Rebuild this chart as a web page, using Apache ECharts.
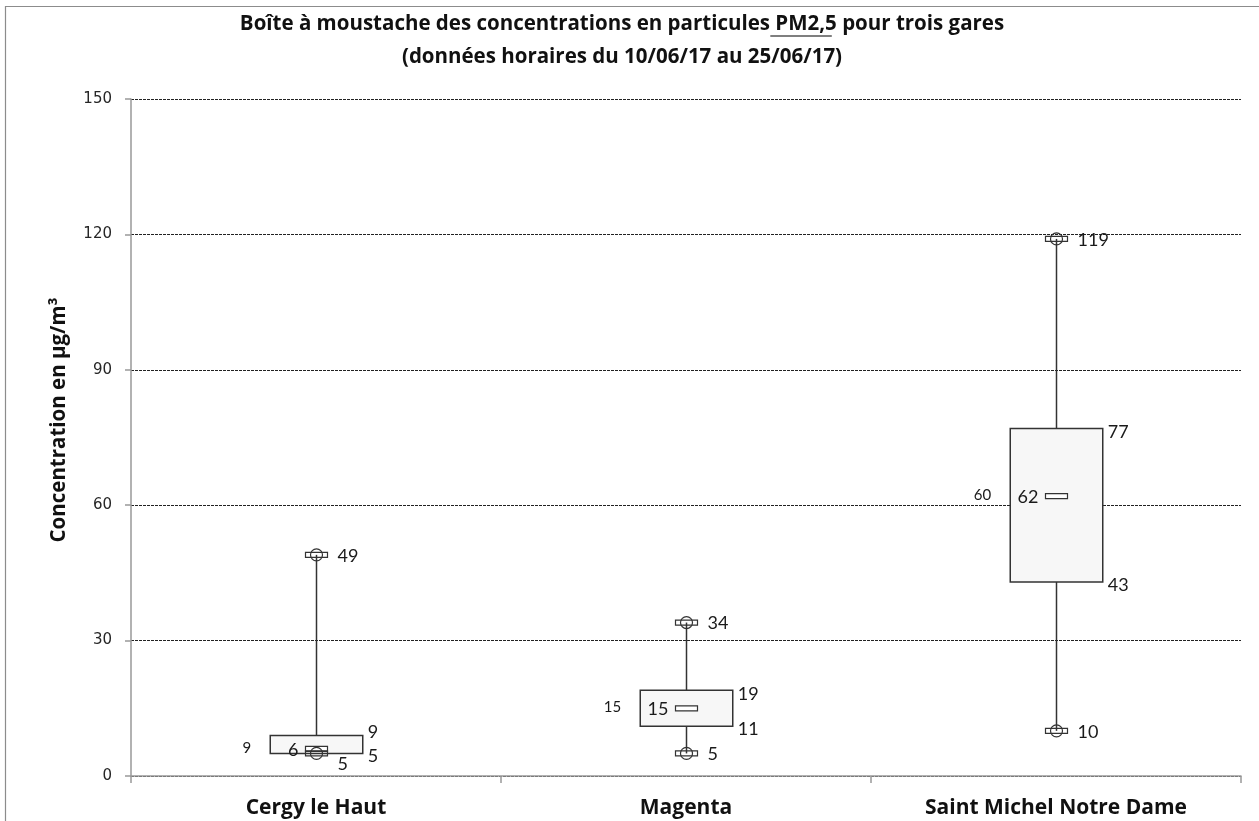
<!DOCTYPE html>
<html>
<head>
<meta charset="utf-8">
<script src="https://cdn.jsdelivr.net/npm/echarts@6/dist/echarts.min.js"></script>
<style>
html,body{margin:0;padding:0;background:#fff;}
#chart{width:1259px;height:821px;}
</style>
</head>
<body>
<div id="chart"></div>
<script>
const categories = ['Cergy le Haut', 'Magenta', 'Saint Michel Notre Dame'];
const minValues = [5, 5, 10];
const q1Values = [5, 11, 43];
const medianValues = [6, 15, 62];
const q3Values = [9, 19, 77];
const maxValues = [49, 34, 119];
const meanValues = [9, 15, 60];
const yTicks = [0, 30, 60, 90, 120, 150];

const titlePre = 'Boîte à moustache des concentrations en particules ';
const titleUnder = 'PM2,5';
const titlePost = ' pour trois gares';
const titleLine2 = '(données horaires du 10/06/17 au 25/06/17)';
const yName = 'Concentration en µg/m³';

const boxData = categories.map((c, i) => [i, minValues[i], q1Values[i], medianValues[i], q3Values[i], maxValues[i], meanValues[i]]);

const FONT = 'Lato, "Open Sans", sans-serif';
const BFONT = '"Open Sans", Lato, sans-serif';
const TITLE_SIZE = 20.5;
const TITLE_CX = 617;
const INK = '#333333';
const TXT = '#1a1a1a';

// underline position for "PM2,5" measured from the title font
const mctx = document.createElement('canvas').getContext('2d');
mctx.font = 'bold ' + TITLE_SIZE + 'px ' + BFONT;
const line1 = titlePre + titleUnder + titlePost;
const w1 = mctx.measureText(line1).width;
const ulStart = TITLE_CX - w1 / 2 + mctx.measureText(titlePre).width;
const ulEnd = ulStart + mctx.measureText(titleUnder).width;

function endMarker(cx, y) {
  return [
    {type: 'circle', shape: {cx: cx, cy: y, r: 6}, style: {fill: 'none', stroke: INK, lineWidth: 1.2}},
    {type: 'rect', shape: {x: cx - 11, y: y - 2.5, width: 22, height: 5}, style: {fill: 'none', stroke: INK, lineWidth: 1.2}}
  ];
}
function label(text, x, y, align, size) {
  return {type: 'text', style: {text: String(text), x: x, y: y, align: align, verticalAlign: 'middle', fill: TXT, fontFamily: FONT, fontSize: size || 18}};
}

function renderItem(params, api) {
  const i = api.value(0);
  const vMin = api.value(1), vQ1 = api.value(2), vMed = api.value(3), vQ3 = api.value(4), vMax = api.value(5), vMean = api.value(6);
  const cx = Math.round(api.coord([i, 0])[0]) + 0.5;
  const y = v => api.coord([i, v])[1];
  const yMin = y(vMin), yQ1 = y(vQ1), yMed = y(vMed), yQ3 = y(vQ3), yMax = y(vMax);
  const bw = api.size([1, 0])[0] * 0.25;
  const left = cx - bw / 2, right = cx + bw / 2;
  const children = [];
  children.push({type: 'line', shape: {x1: cx, y1: yMax, x2: cx, y2: yQ3}, style: {stroke: INK, lineWidth: 1.5}});
  children.push({type: 'line', shape: {x1: cx, y1: yQ1, x2: cx, y2: yMin}, style: {stroke: INK, lineWidth: 1.5}});
  children.push({type: 'rect', shape: {x: left, y: yQ3, width: bw, height: yQ1 - yQ3}, style: {fill: '#f7f7f7', stroke: INK, lineWidth: 1.5}});
  children.push({type: 'rect', shape: {x: cx - 11, y: yMed - 2.5, width: 22, height: 5}, style: {fill: '#ffffff', stroke: INK, lineWidth: 1.2}});
  endMarker(cx, yMax).forEach(e => children.push(e));
  endMarker(cx, yMin).forEach(e => children.push(e));
  const tight = (yQ1 - yQ3) < 30;
  children.push(label(vQ3, right + 5, tight ? yQ3 - 3 : yQ3 + 4, 'left'));
  children.push(label(vQ1, right + 5, yQ1 + 3, 'left'));
  children.push(label(vMax, cx + 21, yMax + 1, 'left'));
  const minClash = Math.abs(yMin - yQ1) < 10;
  children.push(label(vMin, cx + 21, minClash ? yMin + 11 : yMin + 1, 'left'));
  children.push(label(vMed, cx - 18, yMed + 1, 'right'));
  children.push(label(vMean, left - 19, yMed - 1, 'right', 15));
  return {type: 'group', children: children};
}

const chart = echarts.init(document.getElementById('chart'), null, {renderer: 'canvas'});
chart.setOption({
  animation: false,
  backgroundColor: '#ffffff',
  title: {
    text: line1 + '\n' + titleLine2,
    left: TITLE_CX,
    top: 3,
    textAlign: 'center',
    textStyle: {fontFamily: BFONT, fontWeight: 'bold', fontSize: TITLE_SIZE, lineHeight: 33, color: '#111111'}
  },
  grid: {left: 131, right: 18, top: 99, bottom: 45, containLabel: false},
  xAxis: {
    type: 'category',
    data: categories,
    boundaryGap: true,
    axisLine: {show: true, lineStyle: {color: '#999999', width: 1.5}},
    axisTick: {show: true, length: 7, alignWithLabel: false, lineStyle: {color: '#999999', width: 1.5}},
    axisLabel: {margin: 22, fontFamily: BFONT, fontWeight: 'bold', fontSize: 21, color: '#111111', interval: 0},
    splitLine: {show: false}
  },
  yAxis: {
    type: 'value',
    min: yTicks[0],
    max: yTicks[yTicks.length - 1],
    interval: yTicks[1] - yTicks[0],
    axisLine: {show: true, lineStyle: {color: '#999999', width: 1.5}},
    axisTick: {show: true, length: 6, lineStyle: {color: '#999999', width: 1.5}},
    axisLabel: {margin: 19, fontFamily: '"DejaVu Sans", Verdana, sans-serif', fontSize: 15, color: '#262626'},
    splitLine: {show: true, lineStyle: {color: '#222222', width: 1, type: [3, 1]}}
  },
  graphic: [
    {type: 'rect', shape: {x: 5.5, y: 6.5, width: 1400, height: 1000}, style: {fill: 'none', stroke: '#8c8c8c', lineWidth: 1.2}, silent: true, z: -1},
    {type: 'text', x: 59, y: 420, rotation: Math.PI / 2, style: {text: yName, align: 'center', verticalAlign: 'middle', fontFamily: BFONT, fontWeight: 'bold', fontSize: 20.5, fill: '#111111'}},
    {type: 'line', shape: {x1: ulStart, y1: 36, x2: ulEnd, y2: 36}, style: {stroke: '#555555', lineWidth: 1.5}}
  ],
  series: [{
    type: 'custom',
    data: boxData,
    encode: {x: 0, y: [1, 2, 3, 4, 5]},
    renderItem: renderItem,
    clip: false,
    z: 5
  }]
});
</script>
</body>
</html>
